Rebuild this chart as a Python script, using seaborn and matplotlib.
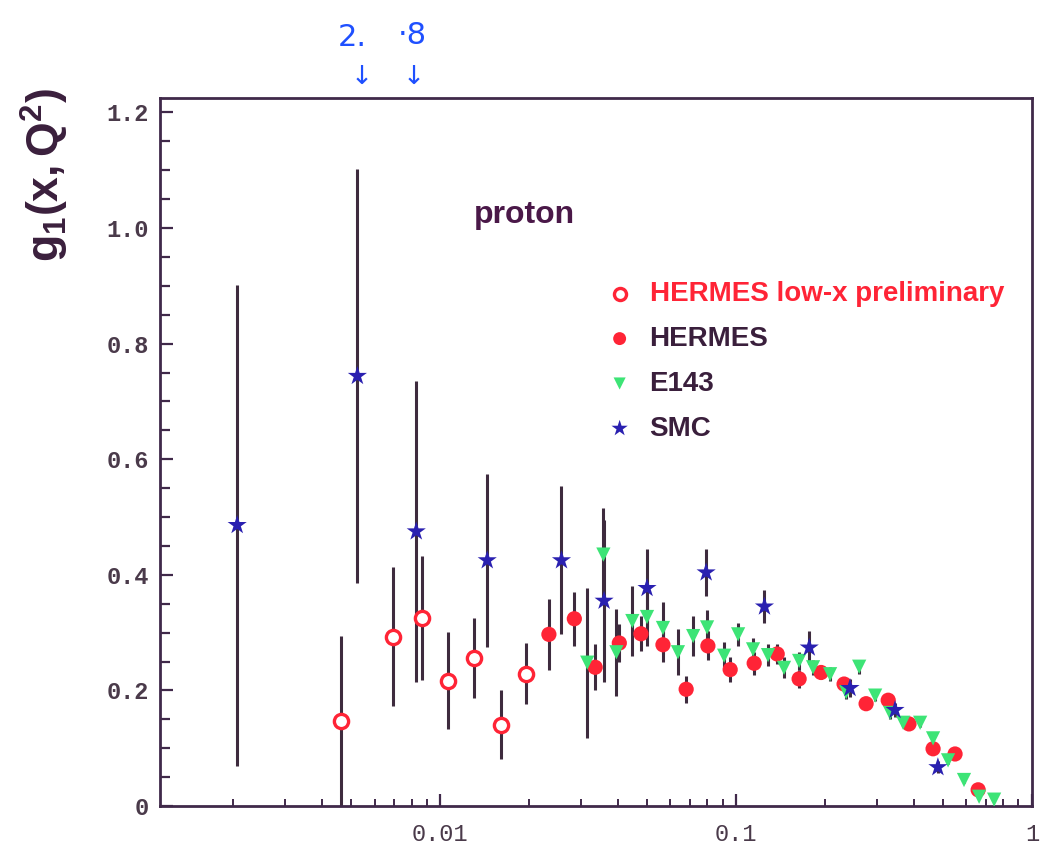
import numpy as np
import pandas as pd
import matplotlib
matplotlib.use("Agg")
import matplotlib.pyplot as plt
import seaborn as sns
from matplotlib.ticker import FixedLocator, FixedFormatter, MultipleLocator, LogLocator, NullFormatter

# ---------------- data ----------------
lowx_x = [0.00463, 0.00693, 0.00869, 0.01064, 0.01303, 0.01607, 0.01953]
lowx_y = [0.147, 0.293, 0.325, 0.217, 0.256, 0.141, 0.229]
lowx_e = [0.147, 0.120, 0.107, 0.084, 0.069, 0.059, 0.053]

hermes_x = [0.0233, 0.0284, 0.0334, 0.0403, 0.0477, 0.0566, 0.0678, 0.0803, 0.0955, 0.1151,
            0.1377, 0.1633, 0.1937, 0.2317, 0.2750, 0.3266, 0.3840, 0.4631, 0.5495, 0.6577]
hermes_y = [0.297, 0.324, 0.240, 0.282, 0.298, 0.279, 0.202, 0.277, 0.236, 0.247,
            0.263, 0.220, 0.231, 0.211, 0.177, 0.183, 0.142, 0.099, 0.090, 0.028]
hermes_e = [0.062, 0.047, 0.040, 0.033, 0.030, 0.030, 0.023, 0.025, 0.021, 0.020,
            0.017, 0.015, 0.012, 0.012, 0.010, 0.010, 0.010, 0.008, 0.006, 0.005]

e143_x = [0.0314, 0.0356, 0.0394, 0.0446, 0.0500, 0.0566, 0.0636, 0.0716, 0.0798, 0.0911,
          0.1016, 0.1141, 0.1282, 0.1452, 0.1633, 0.1820, 0.2078, 0.2355, 0.2606, 0.2951,
          0.3314, 0.3667, 0.4188, 0.4631, 0.5204, 0.5891, 0.6625, 0.7447]
e143_y = [0.248, 0.435, 0.266, 0.320, 0.327, 0.308, 0.266, 0.294, 0.309, 0.260,
          0.297, 0.271, 0.261, 0.239, 0.251, 0.240, 0.228, 0.197, 0.241, 0.191,
          0.161, 0.144, 0.144, 0.117, 0.079, 0.045, 0.016, 0.011]
e143_e = [0.130, 0.080, 0.075, 0.060, 0.050, 0.045, 0.040, 0.035, 0.030, 0.024,
          0.020, 0.020, 0.019, 0.018, 0.015, 0.013, 0.012, 0.012, 0.012, 0.010,
          0.010, 0.008, 0.008, 0.007, 0.006, 0.005, 0.004, 0.004]

smc_x = [0.00206, 0.00525, 0.0083, 0.01442, 0.0257, 0.0358, 0.0500, 0.0792, 0.1247, 0.1767,
         0.2427, 0.3444, 0.4808]
smc_y = [0.486, 0.744, 0.475, 0.425, 0.425, 0.355, 0.377, 0.404, 0.345, 0.274,
         0.204, 0.166, 0.067]
smc_e = [0.416, 0.358, 0.260, 0.150, 0.128, 0.140, 0.068, 0.040, 0.029, 0.029,
         0.015, 0.012, 0.010]

series_labels = ["HERMES low-x preliminary", "HERMES", "E143", "SMC"]
y_ticks = [0, 0.2, 0.4, 0.6, 0.8, 1.0, 1.2]
y_ticklabels = ["0", "0.2", "0.4", "0.6", "0.8", "1.0", "1.2"]
x_ticks = [0.01, 0.1, 1]
x_ticklabels = ["0.01", "0.1", "1"]

# ---------------- style ----------------
RED = "#ff2436"
GREEN = "#3de476"
BLUE = "#2a20b0"
BAR = "#3e2b3e"
FRAME = "#40294a"
DARK = "#3a1f3c"
TICKTXT = "#4a3a4a"

sns.set_style("white")
plt.rcParams["font.family"] = ["Liberation Sans", "DejaVu Sans"]
plt.rcParams["mathtext.fontset"] = "custom"
plt.rcParams["mathtext.bf"] = "Liberation Sans:bold"
plt.rcParams["mathtext.rm"] = "Liberation Sans"
plt.rcParams["mathtext.it"] = "Liberation Sans:italic"

W, H = 1040, 867
fig = plt.figure(figsize=(W / 100, H / 100), dpi=100)
fig.patch.set_facecolor("white")
ax = fig.add_axes([160 / W, 1 - 806 / H, (1032 - 160) / W, (806 - 98) / H])

# error bars
for xs, ys, es in [(lowx_x, lowx_y, lowx_e), (hermes_x, hermes_y, hermes_e),
                   (e143_x, e143_y, e143_e), (smc_x, smc_y, smc_e)]:
    ax.errorbar(xs, ys, yerr=es, fmt="none", ecolor=BAR, elinewidth=2.2, capsize=0, zorder=1)

# markers
sns.scatterplot(x=lowx_x, y=lowx_y, ax=ax, marker="o", s=105, color="white",
                edgecolor=RED, linewidth=2.4, label=series_labels[0], zorder=3)
sns.scatterplot(x=hermes_x, y=hermes_y, ax=ax, marker="o", s=120, color=RED,
                edgecolor="none", linewidth=0, label=series_labels[1], zorder=3)
sns.scatterplot(x=e143_x, y=e143_y, ax=ax, marker="v", s=105, color=GREEN,
                edgecolor="none", linewidth=0, label=series_labels[2], zorder=3)
sns.scatterplot(x=smc_x, y=smc_y, ax=ax, marker="*", s=210, color=BLUE,
                edgecolor="none", linewidth=0, label=series_labels[3], zorder=4)

# axes
ax.set_xscale("log")
ax.set_xlim(0.00113, 1.0)
ax.set_ylim(0, 1.225)
ax.xaxis.set_major_locator(FixedLocator(x_ticks))
ax.xaxis.set_major_formatter(FixedFormatter(x_ticklabels))
ax.xaxis.set_minor_locator(LogLocator(base=10, subs=np.arange(2, 10)))
ax.xaxis.set_minor_formatter(NullFormatter())
ax.yaxis.set_major_locator(FixedLocator(y_ticks))
ax.yaxis.set_major_formatter(FixedFormatter(y_ticklabels))
ax.yaxis.set_minor_locator(MultipleLocator(0.05))
ax.set_xlabel("")
ax.set_ylabel("")
for sp in ax.spines.values():
    sp.set_color(FRAME)
    sp.set_linewidth(2.0)
ax.tick_params(axis="both", which="both", direction="in", colors=FRAME,
               top=False, right=False, left=True, bottom=True)
ax.tick_params(axis="y", which="major", length=9, width=1.6, pad=8)
ax.tick_params(axis="y", which="minor", length=7, width=1.6)
ax.tick_params(axis="x", which="major", length=9, width=1.6, pad=12)
ax.tick_params(axis="x", which="minor", length=5, width=1.4)
for lab in ax.get_yticklabels():
    lab.set_fontfamily("Liberation Mono")
    lab.set_fontsize(17)
    lab.set_fontweight("bold")
    lab.set_color(TICKTXT)
for lab in ax.get_xticklabels():
    lab.set_fontfamily("Liberation Mono")
    lab.set_fontsize(17)
    lab.set_color(TICKTXT)

# legend
leg = ax.legend(loc="upper left", bbox_to_anchor=((612 - 160) / 872, (806 - 281) / 708),
                frameon=False, borderpad=0, borderaxespad=0, handlelength=0.55,
                handletextpad=0.8, labelspacing=0.68, markerscale=0.85,
                prop={"family": "Liberation Sans", "weight": "bold", "size": 20})
for txt, c in zip(leg.get_texts(), [RED, DARK, DARK, DARK]):
    txt.set_color(c)

# texts
fig.text(474 / W, 1 - 215 / H, "proton", fontsize=23, fontweight="bold",
         color="#4a1848", va="center", ha="left")
fig.text(45 / W, 1 - 175 / H, r"$\mathbf{g_1(x,Q^2)}$", rotation=90, fontsize=32,
         color=DARK, ha="center", va="center")

# handwritten-style annotation at the top
fig.text(352 / W, 1 - 37 / H, "2.", fontsize=22, color="#1f50ff", ha="center", va="center",
         family=["DejaVu Sans"])
fig.text(412 / W, 1 - 35 / H, "·8", fontsize=22, color="#1f50ff", ha="center", va="center",
         family=["DejaVu Sans"])
fig.text(362 / W, 1 - 77 / H, "↓", fontsize=19, color="#1f50ff", ha="center", va="center",
         family=["DejaVu Sans"])
fig.text(414 / W, 1 - 77 / H, "↓", fontsize=19, color="#1f50ff", ha="center", va="center",
         family=["DejaVu Sans"])

fig.savefig("out.png", dpi=100, facecolor="white")
